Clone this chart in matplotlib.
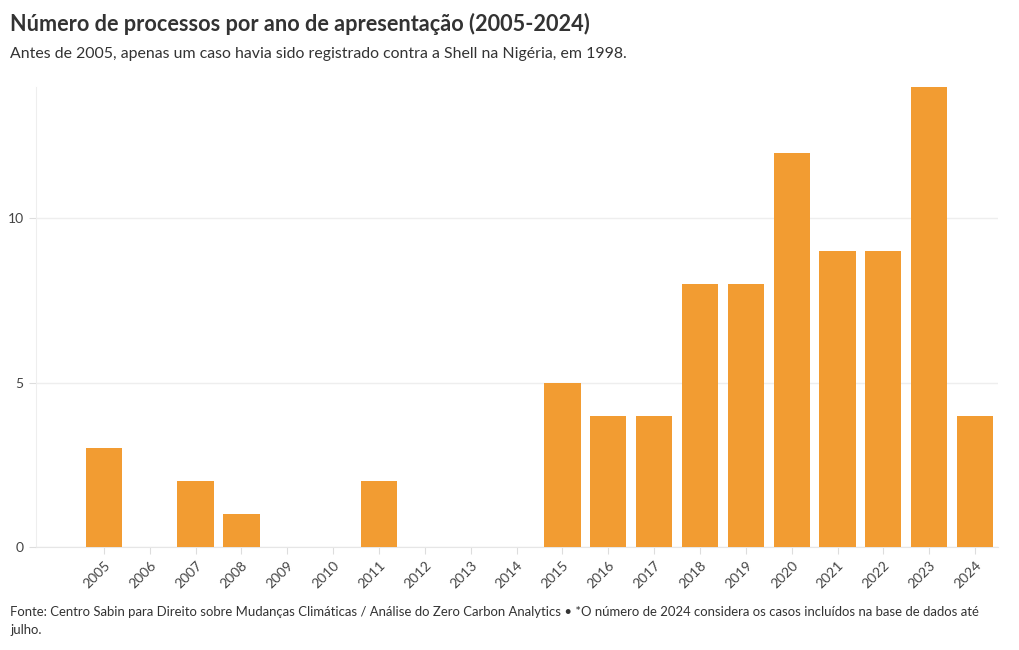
import numpy as np
import matplotlib.pyplot as plt

plt.rcParams['font.family'] = ['Lato', 'DejaVu Sans']

years = list(range(2005, 2025))
cases = [3, 0, 2, 1, 0, 0, 2, 0, 0, 0, 5, 4, 4, 8, 8, 12, 9, 9, 14, 4]

title = 'Número de processos por ano de apresentação (2005-2024)'
subtitle = 'Antes de 2005, apenas um caso havia sido registrado contra a Shell na Nigéria, em 1998.'
footer = ('Fonte: Centro Sabin para Direito sobre Mudanças Climáticas / Análise do Zero Carbon Analytics • '
          '*O número de 2024 considera os casos incluídos na base de dados até\njulho.')

bar_color = '#f29c32'
text_color = '#333333'

fig = plt.figure(figsize=(10.2, 6.5), dpi=100)
ax = fig.add_axes([36/1020, 1 - 547/650, (998-36)/1020, (547-87)/650])

ax.bar(years, cases, width=0.79, color=bar_color, zorder=3)

ax.set_xlim(2003.52, 2024.5)
ax.set_ylim(0, 14)
ax.set_yticks([0, 5, 10])
ax.set_xticks(years)
ax.set_xticklabels([str(y) for y in years], rotation=45, ha='right', rotation_mode='anchor')
ax.tick_params(axis='x', length=5, color='#dddddd', labelsize=10, labelcolor='#444444', pad=4)
ax.tick_params(axis='y', length=5, color='#dddddd', labelsize=10, labelcolor='#444444', pad=4)
ax.grid(axis='y', color='#eeeeee', linewidth=1, zorder=0)

for side in ['top', 'right']:
    ax.spines[side].set_visible(False)
ax.spines['left'].set_color('#eeeeee')
ax.spines['bottom'].set_color('#e6e6e6')

fig.text(10/1020, 1 - 24/650, title, fontsize=15.6, fontweight='bold', color=text_color, va='center')
fig.text(10/1020, 1 - 54/650, subtitle, fontsize=11.4, color=text_color, va='center')
fig.text(10/1020, 1 - 606/650, footer, fontsize=9.45, color=text_color, va='top', linespacing=1.6)

fig.savefig('out.png', dpi=100)
